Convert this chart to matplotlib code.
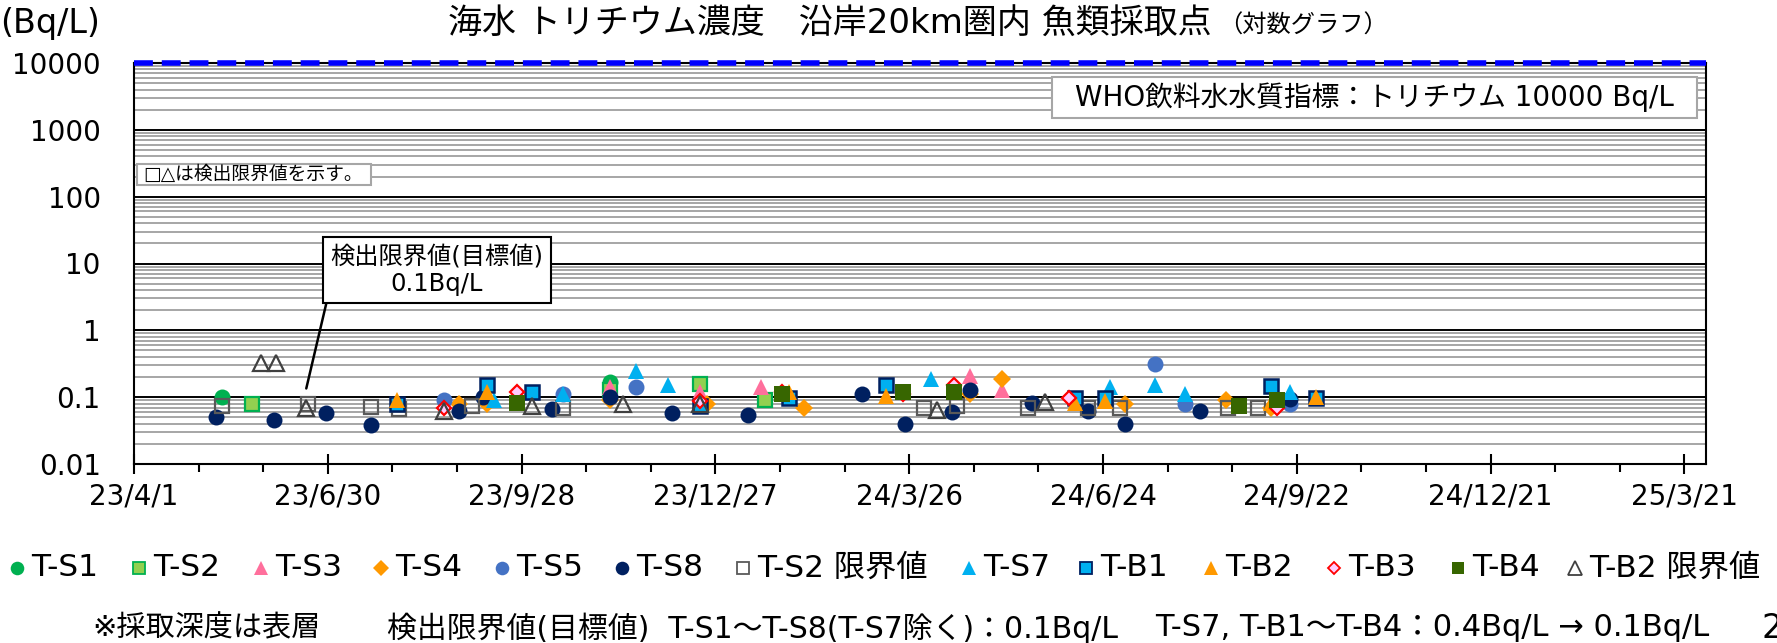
import matplotlib
matplotlib.use('Agg')
import matplotlib.pyplot as plt
import matplotlib.dates as mdates
from matplotlib.lines import Line2D
from matplotlib.patches import Rectangle
from matplotlib.ticker import FixedLocator, NullFormatter, LogLocator
import numpy as np
import pandas as pd

plt.rcParams['font.family'] = ['DejaVu Sans', 'Noto Sans CJK JP']

# --- measured tritium concentrations (Bq/L) per sampling point ---
ts1_dates = ["2023-05-12", "2023-11-08"]
ts1_vals = [0.10, 0.17]

ts2_dates = ["2023-05-26", "2023-11-08", "2023-12-20", "2024-01-19"]
ts2_vals = [0.08, 0.13, 0.16, 0.09]

ts3_dates = ["2023-11-08", "2023-12-20", "2024-01-17", "2024-04-23", "2024-05-08"]
ts3_vals = [0.14, 0.12, 0.14, 0.21, 0.13]

ts4_dates = ["2023-08-30", "2023-09-12", "2023-11-08", "2023-12-23", "2024-02-06",
             "2024-04-23", "2024-05-08", "2024-07-04", "2024-08-20", "2024-09-10"]
ts4_vals = [0.08, 0.08, 0.09, 0.08, 0.07, 0.11, 0.19, 0.08, 0.09, 0.07]

ts5_dates = ["2023-08-23", "2023-10-17", "2023-11-20", "2024-07-18", "2024-08-01", "2024-09-19"]
ts5_vals = [0.09, 0.11, 0.14, 0.31, 0.08, 0.08]

ts8_dates = ["2023-05-09", "2023-06-05", "2023-06-29", "2023-07-20", "2023-08-30",
             "2023-09-10", "2023-10-12", "2023-11-08", "2023-12-07", "2024-01-11",
             "2024-03-04", "2024-03-24", "2024-04-15", "2024-04-23", "2024-05-22",
             "2024-06-17", "2024-07-04", "2024-08-08", "2024-09-19"]
ts8_vals = [0.050, 0.046, 0.058, 0.038, 0.062, 0.10, 0.066, 0.10, 0.058, 0.054,
            0.11, 0.039, 0.059, 0.13, 0.083, 0.062, 0.039, 0.062, 0.093]

ts2_lim_dates = ["2023-05-12", "2023-06-21", "2023-07-20", "2023-08-02", "2023-09-05",
                 "2023-10-17", "2024-04-02", "2024-04-17", "2024-05-20", "2024-06-17",
                 "2024-07-02", "2024-08-21", "2024-09-04"]
ts2_lim_vals = [0.073, 0.08, 0.072, 0.066, 0.074, 0.07, 0.07, 0.074, 0.07, 0.07,
                0.068, 0.07, 0.068]

ts7_dates = ["2023-09-15", "2023-10-17", "2023-11-20", "2023-12-05", "2024-04-05",
             "2024-06-27", "2024-07-18", "2024-08-01", "2024-09-19"]
ts7_vals = [0.09, 0.11, 0.25, 0.15, 0.19, 0.14, 0.15, 0.11, 0.12]

tb1_dates = ["2023-08-01", "2023-09-12", "2023-10-03", "2023-12-20", "2024-01-30",
             "2024-03-15", "2024-06-11", "2024-06-25", "2024-09-10", "2024-10-01"]
tb1_vals = [0.08, 0.15, 0.12, 0.075, 0.097, 0.15, 0.096, 0.096, 0.145, 0.096]

tb2_dates = ["2023-08-01", "2023-09-12", "2024-01-30", "2024-03-15", "2024-06-11",
             "2024-06-25", "2024-09-10", "2024-10-01"]
tb2_vals = [0.09, 0.12, 0.12, 0.105, 0.083, 0.088, 0.083, 0.10]

tb3_dates = ["2023-08-23", "2023-09-26", "2023-12-20", "2024-01-27", "2024-03-23",
             "2024-04-16", "2024-06-08", "2024-09-13"]
tb3_vals = [0.07, 0.12, 0.088, 0.12, 0.11, 0.15, 0.096, 0.07]

tb4_dates = ["2023-09-26", "2024-01-27", "2024-03-23", "2024-04-16", "2024-08-26", "2024-09-13"]
tb4_vals = [0.083, 0.11, 0.12, 0.12, 0.074, 0.09]

tb2_lim_dates = ["2023-05-30", "2023-06-06", "2023-06-20", "2023-08-23", "2023-10-03",
                 "2023-11-14", "2023-12-20", "2024-04-08", "2024-05-28"]
tb2_lim_vals = [0.33, 0.33, 0.07, 0.062, 0.074, 0.08, 0.08, 0.065, 0.085]

labels = ["T-S1", "T-S2", "T-S3", "T-S4", "T-S5", "T-S8", "T-S2 限界値",
          "T-S7", "T-B1", "T-B2", "T-B3", "T-B4", "T-B2 限界値"]

series = [
    (ts1_dates, ts1_vals, dict(marker='o', ms=11.5, mfc='#00B050', mec='#00B050', mew=0)),
    (ts2_dates, ts2_vals, dict(marker='s', ms=10, mfc='#92D050', mec='#00B050', mew=1.6)),
    (ts3_dates, ts3_vals, dict(marker='^', ms=11.5, mfc='#FF6F9C', mec='#FF6F9C', mew=0)),
    (ts4_dates, ts4_vals, dict(marker='D', ms=9, mfc='#FF9900', mec='#FF9900', mew=0)),
    (ts5_dates, ts5_vals, dict(marker='o', ms=11.5, mfc='#4472C4', mec='#4472C4', mew=0)),
    (ts8_dates, ts8_vals, dict(marker='o', ms=11.5, mfc='#002060', mec='#002060', mew=0)),
    (ts2_lim_dates, ts2_lim_vals, dict(marker='s', ms=10, mfc='none', mec='#595959', mew=1.6)),
    (ts7_dates, ts7_vals, dict(marker='^', ms=11.5, mfc='#00B0F0', mec='#00B0F0', mew=0)),
    (tb1_dates, tb1_vals, dict(marker='s', ms=10, mfc='#00B0F0', mec='#002060', mew=1.8)),
    (tb2_dates, tb2_vals, dict(marker='^', ms=11.5, mfc='#FF9900', mec='#FF9900', mew=0)),
    (tb3_dates, tb3_vals, dict(marker='D', ms=7.5, mfc='#FFCCFF', mec='#FF0000', mew=1.6)),
    (tb4_dates, tb4_vals, dict(marker='s', ms=11, mfc='#376600', mec='#376600', mew=0)),
    (tb2_lim_dates, tb2_lim_vals, dict(marker='^', ms=11.5, mfc='none', mec='#404040', mew=1.6)),
]

W, H = 1777, 643
fig = plt.figure(figsize=(W / 100, H / 100), dpi=100)
ax = fig.add_axes([134 / W, 1 - 464 / H, (1706 - 134) / W, (464 - 63) / H])

for dates, vals, style in series:
    ax.plot(pd.to_datetime(dates), vals, linestyle='none', zorder=3, **style)

# log axis with black decade lines and gray minor lines
ax.set_yscale('log')
ax.set_ylim(0.01, 10000)
ax.yaxis.set_major_locator(LogLocator(base=10, numticks=20))
ax.yaxis.set_minor_locator(LogLocator(base=10, subs=np.arange(2, 10), numticks=20))
ax.yaxis.set_minor_formatter(NullFormatter())
ax.set_yticks([0.01, 0.1, 1, 10, 100, 1000, 10000])
ax.set_yticklabels(["0.01", "0.1", "1", "10", "100", "1000", "10000"])
ax.grid(which='minor', axis='y', color='#A6A6A6', lw=1.4, zorder=0)
ax.grid(which='major', axis='y', color='black', lw=1.4, zorder=1)
ax.tick_params(axis='y', which='both', length=0, pad=24, labelsize=20)

# date axis, 90-day major steps, 30-day minor steps
start = pd.Timestamp("2023-04-01")
ax.set_xlim(start, pd.Timestamp("2025-03-31"))
major = pd.date_range(start, periods=9, freq='90D')
minor = pd.date_range(start, periods=25, freq='30D')
ax.xaxis.set_major_locator(FixedLocator(mdates.date2num(major)))
ax.xaxis.set_minor_locator(FixedLocator(mdates.date2num(minor)))
ax.set_xticklabels([f"{d.year % 100}/{d.month}/{d.day}" for d in major])
ax.tick_params(axis='x', which='major', direction='inout', length=14, width=1.5,
               pad=6, labelsize=20)
ax.tick_params(axis='x', which='minor', direction='out', length=6, width=1.5)

for s in ax.spines.values():
    s.set_color('black')
    s.set_linewidth(1.5)

# WHO drinking-water guideline line
ax.axhline(10000, color='#0000FF', lw=4, linestyle=(0, (3.4, 1.6)),
           clip_on=False, zorder=5)

# note boxes
ax.add_patch(Rectangle((0.584, 0.863), 0.4103, 0.102, transform=ax.transAxes,
                       fc='white', ec='#A6A6A6', lw=1.5, zorder=6))
ax.text(0.789, 0.914, "WHO飲料水水質指標：トリチウム 10000 Bq/L", transform=ax.transAxes,
        ha='center', va='center', fontsize=20, zorder=7)
ax.add_patch(Rectangle((0.002, 0.696), 0.1488, 0.052, transform=ax.transAxes,
                       fc='white', ec='#A6A6A6', lw=1.5, zorder=6))
ax.text(0.076, 0.722, "□△は検出限界値を示す。", transform=ax.transAxes,
        ha='center', va='center', fontsize=13.5, zorder=7)

ax.annotate("検出限界値(目標値)\n0.1Bq/L", xy=(pd.Timestamp("2023-06-20"), 0.135),
            xytext=(437 / W, 1 - 270 / H), textcoords='figure fraction',
            ha='center', va='center', fontsize=17.5, linespacing=1.2,
            bbox=dict(boxstyle='square,pad=0.3', fc='white', ec='black', lw=1.5),
            arrowprops=dict(arrowstyle='-', color='black', lw=1.8,
                            relpos=(0.0, 0.2), shrinkA=0, shrinkB=0),
            zorder=6)

# titles and unit
fig.text(1212 / W, 1 - 24 / H, "海水 トリチウム濃度　沿岸20km圏内 魚類採取点",
         ha='right', va='center', fontsize=24.5)
fig.text(1218 / W, 1 - 26 / H, "（対数グラフ）", ha='left', va='center', fontsize=17.5)
fig.text(0 / W, 1 - 23 / H, "(Bq/L)", ha='left', va='center', fontsize=24)

# legend row, drawn entry by entry
marker_x = [17, 139, 261, 381, 502, 622, 743, 969, 1086, 1211, 1334, 1458, 1575]
legend_y = 1 - 568 / H
for (dates, vals, style), label, mx in zip(series, labels, marker_x):
    st = dict(style)
    st['ms'] = st['ms'] * 0.85
    st['mew'] = min(st['mew'], 1.3)
    fig.add_artist(Line2D([mx / W], [legend_y], transform=fig.transFigure,
                          linestyle='none', **st))
    fig.text((mx + 14) / W, legend_y, label, ha='left', va='center', fontsize=22.5)

# footnote
foot_y = 1 - 628 / H
fig.text(92 / W, foot_y, "※採取深度は表層", ha='left', va='center', fontsize=21)
fig.text(387 / W, foot_y, "検出限界値(目標値)  T-S1〜T-S8(T-S7除く)：0.1Bq/L",
         ha='left', va='center', fontsize=21.5)
fig.text(1155 / W, foot_y, "T-S7, T-B1〜T-B4：0.4Bq/L → 0.1Bq/L",
         ha='left', va='center', fontsize=22)
fig.text(1762 / W, foot_y, "2", ha='left', va='center', fontsize=24)

fig.savefig("out.png", dpi=100)
